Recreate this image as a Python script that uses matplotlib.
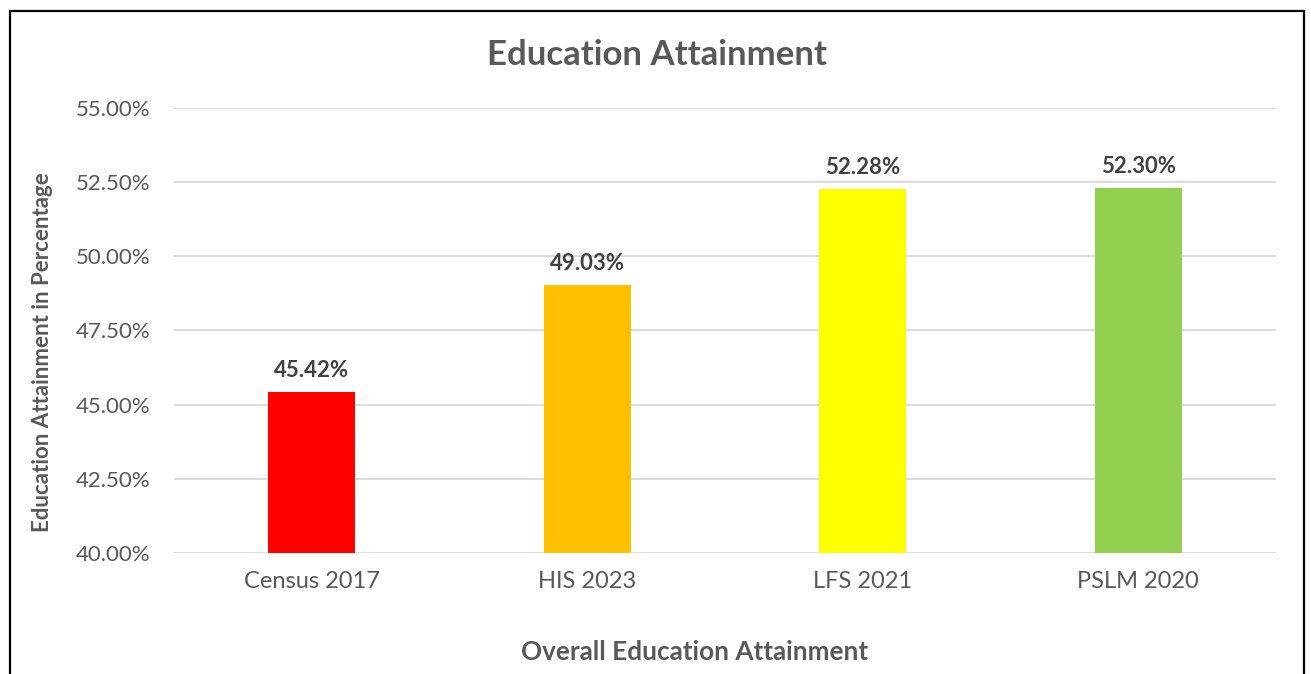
import matplotlib
matplotlib.use("Agg")
import matplotlib.pyplot as plt
import matplotlib.patches as patches
from matplotlib.ticker import FuncFormatter

categories = ["Census 2017", "HIS 2023", "LFS 2021", "PSLM 2020"]
values = [45.42, 49.03, 52.28, 52.30]
bar_colors = ["#FF0000", "#FFC000", "#FFFF00", "#92D050"]
y_ticks = [40.0, 42.5, 45.0, 47.5, 50.0, 52.5, 55.0]

plt.rcParams['font.family'] = ['Lato', 'DejaVu Sans']

fig = plt.figure(figsize=(13.11, 6.74), dpi=100)
fig.patch.set_facecolor('white')
ax = fig.add_axes([174 / 1311, 1 - 553 / 674, (1276 - 174) / 1311, (553 - 108) / 674])

x = range(len(categories))
bars = ax.bar(x, values, width=0.316, color=bar_colors, zorder=3)

ax.set_ylim(40, 55)
ax.set_xlim(-0.5, len(categories) - 0.5)
ax.set_yticks(y_ticks)
ax.yaxis.set_major_formatter(FuncFormatter(lambda v, p: f"{v:.2f}%"))
ax.set_xticks(list(x))
ax.set_xticklabels(categories)
ax.tick_params(axis='both', length=0, colors='#595959')
ax.tick_params(axis='y', pad=17, labelsize=16)
ax.tick_params(axis='x', pad=13, labelsize=17)
ax.grid(axis='y', color='#D9D9D9', linewidth=1.3, zorder=0)
for s in ax.spines.values():
    s.set_visible(False)

# data labels
for b, v in zip(bars, values):
    ax.annotate(f"{v:.2f}%", (b.get_x() + b.get_width() / 2, v),
                xytext=(0, 8), textcoords='offset points',
                ha='center', va='bottom', fontsize=16, fontweight='bold',
                color='#404040')

fig.text(657 / 1311, 1 - 55 / 674, "Education Attainment", ha='center', va='center',
         fontsize=25, fontweight='bold', color='#595959')
fig.text(43 / 1311, 1 - 352 / 674, "Education Attainment in Percentage", rotation=90,
         ha='center', va='center', fontsize=16, fontweight='bold', color='#595959')
fig.text(695 / 1311, 1 - 652 / 674, "Overall Education Attainment", ha='center', va='center',
         fontsize=18.8, fontweight='bold', color='#595959')

# outer frame of the chart area
frame = patches.Rectangle((9.5 / 1311, -0.05), (1303.5 - 9.5) / 1311, 1.05 - 10.5 / 674,
                          transform=fig.transFigure, fill=False, ec='black', lw=1.6,
                          clip_on=False)
fig.patches.append(frame)

fig.savefig("out.png", dpi=100, facecolor='white')
